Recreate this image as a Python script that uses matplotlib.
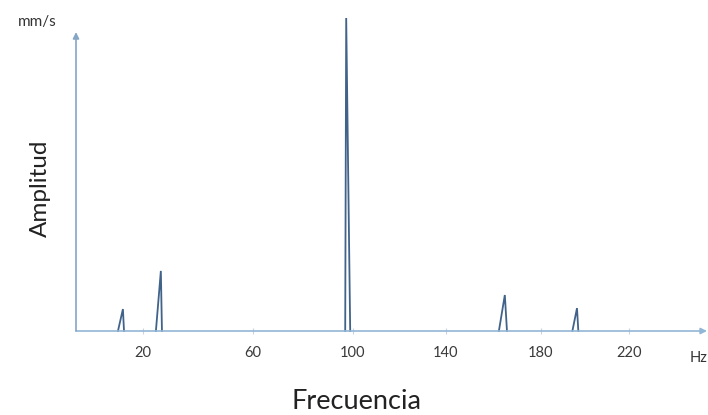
import numpy as np
import matplotlib
matplotlib.use("Agg")
import matplotlib.pyplot as plt

plt.rcParams['font.family'] = ['Lato', 'DejaVu Sans']

# ---- data ----
peak_hz = [12.7, 26.5, 97.3, 164.8, 196.4]
peak_amp = [0.70, 1.92, 10.0, 1.15, 0.73]
rise_hz = [1.8, 1.8, 0.4, 2.5, 2.1]
fall_hz = [0.4, 0.4, 1.6, 0.9, 0.6]
tick_values = [20, 60, 100, 140, 180, 220]
tick_labels = ['20', '60', '100', '140', '180', '220']

# hand-drawn, uneven axis: piecewise-linear scale anchors (Hz -> drawing units)
scale_hz = [-30, 20, 60, 100, 140, 180, 220, 280]
scale_u = [5.5, 143, 253, 353, 446, 541, 629, 761]

def fwd(x):
    return np.interp(x, scale_hz, scale_u)

def inv(u):
    return np.interp(u, scale_u, scale_hz)

W, H = 708, 415
fig = plt.figure(figsize=(W / 100, H / 100), dpi=100)
ax = fig.add_axes([76 / W, (H - 331) / H, 631 / W, 313 / H])
ax.set_xscale('function', functions=(fwd, inv))
ax.set_xlim(-4.36, 255.5)
ax.set_ylim(0, 10)

peak_color = '#41638a'
for f, a, r, d in zip(peak_hz, peak_amp, rise_hz, fall_hz):
    ax.plot([f - r, f, f + d], [0, a, 0], color=peak_color, lw=1.3,
            solid_joinstyle='miter', clip_on=False)

for s in ax.spines.values():
    s.set_visible(False)

axis_color = '#92b6d6'
ax.annotate('', xy=(1.0, 0), xytext=(0, 0), xycoords='axes fraction',
            arrowprops=dict(arrowstyle='-|>', color=axis_color, lw=1.2,
                            mutation_scale=9, shrinkA=0, shrinkB=0))
ax.annotate('', xy=(0, 0.955), xytext=(0, 0), xycoords='axes fraction',
            arrowprops=dict(arrowstyle='-|>', color='#86a6c6', lw=1.2,
                            mutation_scale=9, shrinkA=0, shrinkB=0))

ax.set_yticks([])
ax.set_xticks(tick_values)
ax.set_xticklabels(tick_labels, fontsize=10.5, color='#3a3a3a')
ax.tick_params(axis='x', length=5, width=0.8, color='#c8d4df', direction='inout', pad=8)
ax.xaxis.set_minor_locator(matplotlib.ticker.NullLocator())

fig.text(690 / W, 1 - 358 / H, 'Hz', fontsize=10.5, color='#333333', ha='left', va='center')
fig.text(37 / W, 1 - 22 / H, 'mm/s', fontsize=11, color='#333333', ha='center', va='center')
fig.text(40 / W, 1 - 188 / H, 'Amplitud', fontsize=17.5, color='#222222',
         rotation=90, ha='center', va='center')
fig.text(356 / W, 1 - 401 / H, 'Frecuencia', fontsize=19.5, color='#222222',
         ha='center', va='center')

fig.savefig('out.png', dpi=100, facecolor='white')
